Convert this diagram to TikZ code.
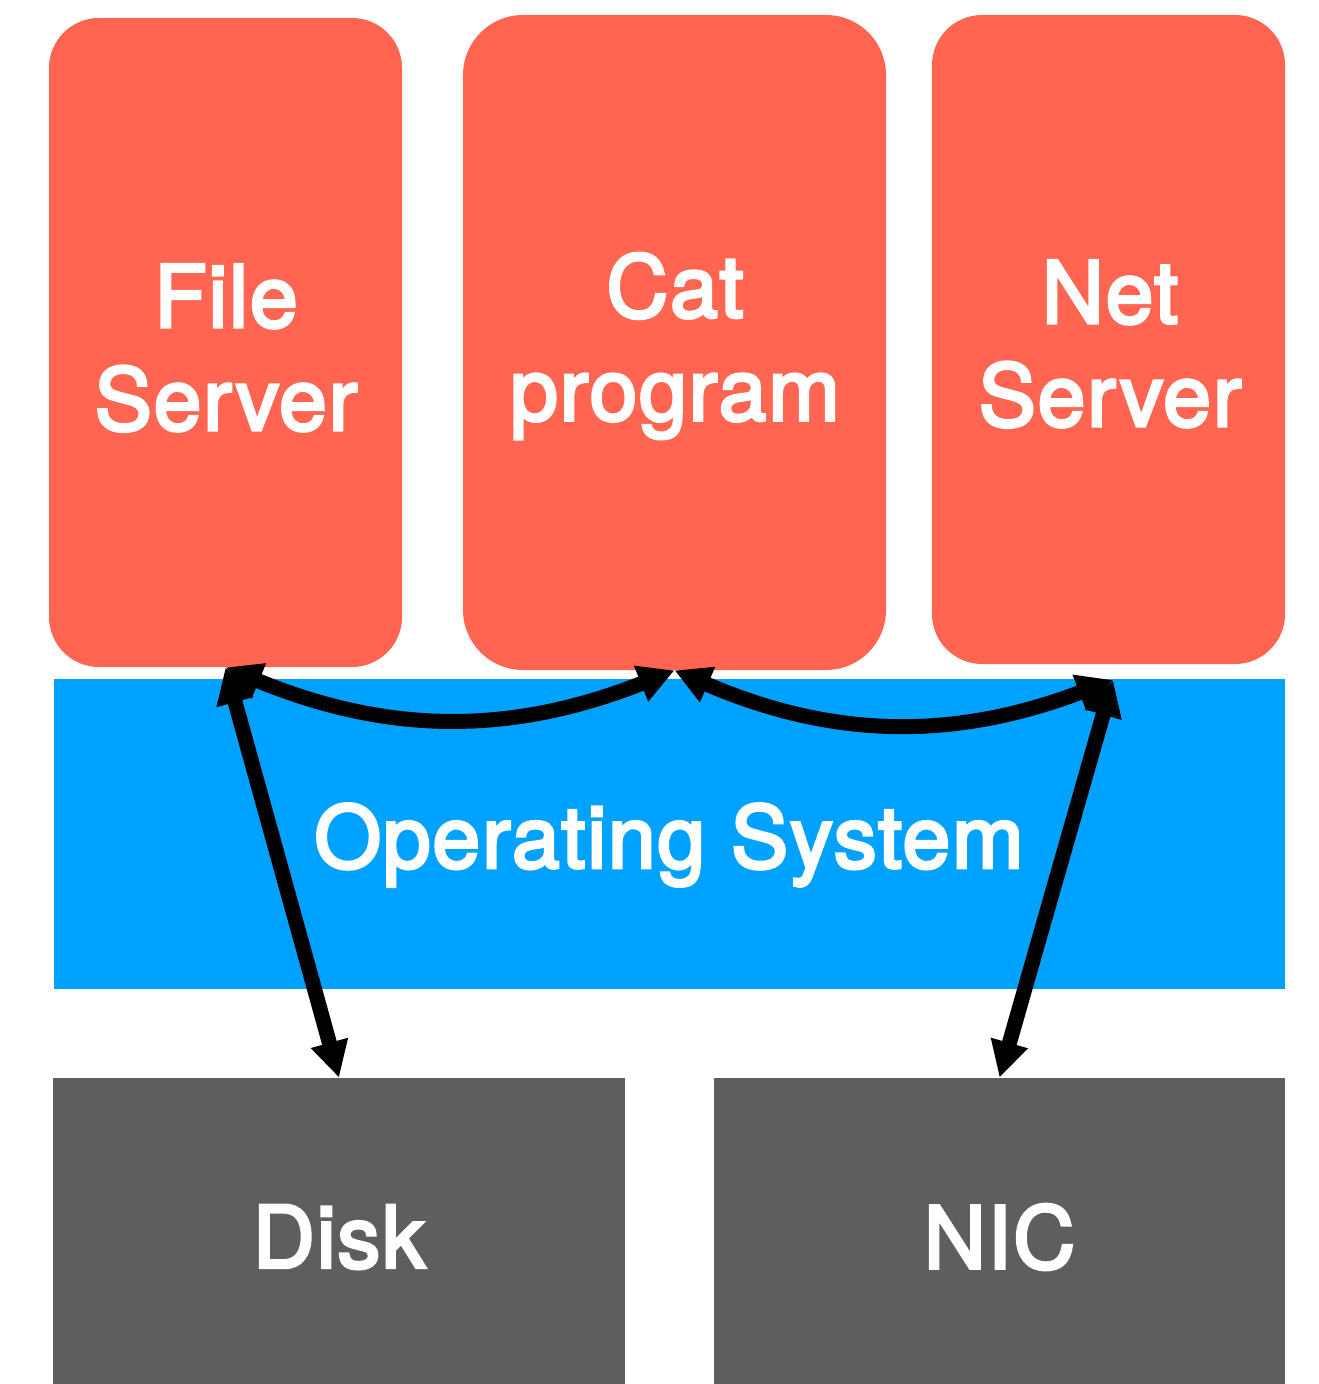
\documentclass[tikz,border=0pt]{standalone}
\usepackage{fontspec}
\setmainfont{TeX Gyre Heros}
\newfontfamily\labelface{TeX Gyre Heros}[FakeBold=3.5, LetterSpace=2]
\usetikzlibrary{arrows.meta}
\definecolor{procred}{RGB}{255,101,80}
\definecolor{osblue}{RGB}{0,162,255}
\definecolor{hwgray}{RGB}{94,94,94}
\tikzset{
  labelfont/.style={font=\labelface\fontsize{43}{51.5}\selectfont},
  proc/.style={fill=procred, rounded corners=25pt, inner sep=0pt},
  lbl/.style={labelfont, text=white, align=center, inner sep=0pt},
  layer/.style={fill=osblue, inner sep=0pt},
  hw/.style={fill=hwgray, text=white, labelfont, inner sep=0pt},
  conn/.style={line width=7.5pt, {Triangle[length=18pt,width=18pt]}-{Triangle[length=18pt,width=18pt]}},
}
\begin{document}
\begin{tikzpicture}[x=0.5pt, y=-0.5pt]
\useasboundingbox (0,0) rectangle (1318,1384);
% user-level programs
\node[proc, minimum width=176.5pt, minimum height=324.5pt] (fs) at (225.5,342.5) {};
\node[proc, rounded corners=30pt, minimum width=211.5pt, minimum height=327.5pt] (cat) at (674.5,342.5) {};
\node[proc, minimum width=176.5pt, minimum height=324.5pt] (net) at (1108.5,339.5) {};
\node[lbl] (fslbl) at (226,348) {File\\Server};
\node[lbl] (catlbl) at (675,346) {Cat\\program};
\node[lbl] (netlbl) at (1110,344) {Net\\Server};
% kernel layer
\node[layer, minimum width=615.5pt, minimum height=155pt] (os) at (669.5,834) {};
\node[lbl] (oslbl) at (669,845) {Operating System};
% hardware devices
\node[hw, minimum width=286pt, minimum height=159pt] (disk) at (339,1237) {Disk};
\node[hw, minimum width=285.5pt, minimum height=159pt] (nic) at (999.5,1237) {NIC};
% where the net server's channels meet the kernel
\coordinate (netdock) at (1113,680);
% message paths
\draw[conn] (fs.south) -- (disk.north);
\draw[conn] (fs.south) to[bend right=22] (cat.south);
\draw[conn] (cat.south) to[bend right=22] (netdock);
\draw[conn] (netdock) -- (nic.north);
\end{tikzpicture}
\end{document}
